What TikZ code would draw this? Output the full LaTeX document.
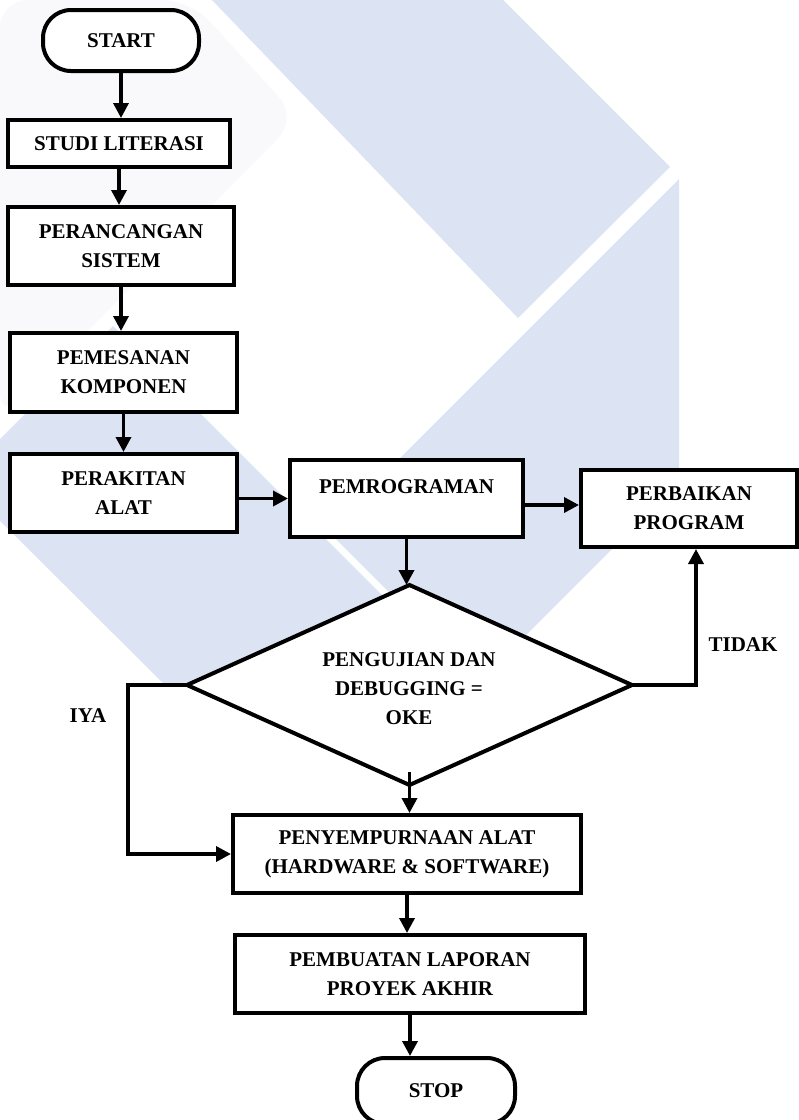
\documentclass[tikz,border=0pt]{standalone}
\usepackage{fontspec}
\setmainfont{Liberation Serif}
\usetikzlibrary{calc,arrows.meta}

\definecolor{wmblue}{RGB}{220,227,242}
\definecolor{wmgrey}{RGB}{249,249,251}

\tikzset{
    box/.style={draw, rectangle, line width=4pt, fill=white, inner sep=0pt, align=center,
        font=\bfseries\fontsize{21}{29}\selectfont},
    term/.style={box, rounded corners=28pt},
    arr/.style={line width=3.5pt, line join=miter, -{Triangle[length=15pt,width=15pt]}},
    lbl/.style={font=\bfseries\fontsize{21}{29}\selectfont}
}

\begin{document}
\begin{tikzpicture}[x=1pt,y=-1pt]
        \useasboundingbox[fill=white] (0,0) rectangle (799,1120);
        % watermark
        \fill[wmgrey, rounded corners=28pt] (190,0) -- (298,118) -- (0,420) -- (0,0) -- cycle;
        \fill[wmblue] (212,0) -- (503,0) -- (670,167) -- (518,318) -- cycle;
        \fill[wmblue] (679,179) -- (679,482) -- (479,682) -- (327.5,530.5) -- cycle;
        \fill[wmblue] (113,326) -- (-41,480) -- (163,683) -- (400,700) -- (460,673) -- cycle;

        \node[term, minimum width=156pt, minimum height=61pt] (start) at (121,40.5) {START};
        \node[box, minimum width=222pt, minimum height=47pt] (studi) at (119,143.5) {STUDI LITERASI};
        \node[box, minimum width=226pt, minimum height=78pt] (rancang) at (121,246) {PERANCANGAN\\SISTEM};
        \node[box, minimum width=227pt, minimum height=79pt] (pesan) at (123.5,372.5) {PEMESANAN\\KOMPONEN};
        \node[box, minimum width=227pt, minimum height=78pt] (rakit) at (123.5,493) {PERAKITAN\\ALAT};
        \node[box, minimum width=233pt, minimum height=77pt, text depth=23pt] (program) at (406.5,498.5) {PEMROGRAMAN};
        \node[box, minimum width=216pt, minimum height=77pt] (fix) at (689,508.5) {PERBAIKAN\\PROGRAM};

        \coordinate (dtop) at (409.5,585);
        \coordinate (dright) at (632,685);
        \coordinate (dbot) at (409.5,785);
        \coordinate (dleft) at (187,685);
        \draw[line width=4pt, fill=white] (dtop) -- (dright) -- (dbot) -- (dleft) -- cycle;
        \node[lbl, align=center] (test) at (409,688.5) {PENGUJIAN DAN\\DEBUGGING =\\OKE};

        \node[box, minimum width=348pt, minimum height=78pt] (refine) at (407,854) {PENYEMPURNAAN ALAT\\(HARDWARE \& SOFTWARE)};
        \node[box, minimum width=350pt, minimum height=78pt] (report) at (410,974) {PEMBUATAN LAPORAN\\PROYEK AKHIR};
        \node[term, minimum width=158pt, minimum height=66pt] (stop) at (436,1091) {STOP};

        \node[lbl] (tidak) at (743,645) {TIDAK};
        \node[lbl] (iya) at (88,716) {IYA};

        \draw[arr] (start.south) -- (start.south |- studi.north);
        \draw[arr] (studi.south) -- (studi.south |- rancang.north);
        \draw[arr] (rancang.south) -- (rancang.south |- pesan.north);
        \draw[arr] (pesan.south) -- (pesan.south |- rakit.north);
        \draw[arr] (rakit.east |- program.west) -- (program.west);
        \draw[arr] ($(program.east)+(0,6.5)$) -- ($(fix.west)+(0,-3.5)$);
        \draw[arr] (program.south) -- (program.south |- dtop);

        \coordinate (no) at (696,685);
        \draw[arr] (dright) -- (no) -- (no |- fix.south);
        \coordinate (yes) at (128,685);
        \draw[arr] (dleft) -- (yes) -- (yes |- refine.west) -- (refine.west);

        \coordinate (dstem) at (409.5,772);
        \draw[arr] (dstem) -- (dstem |- refine.north);
        \draw[arr] (refine.south) -- (refine.south |- report.north);
        \draw[arr] (report.south) -- (report.south |- stop.north);
    \end{tikzpicture}
\end{document}
